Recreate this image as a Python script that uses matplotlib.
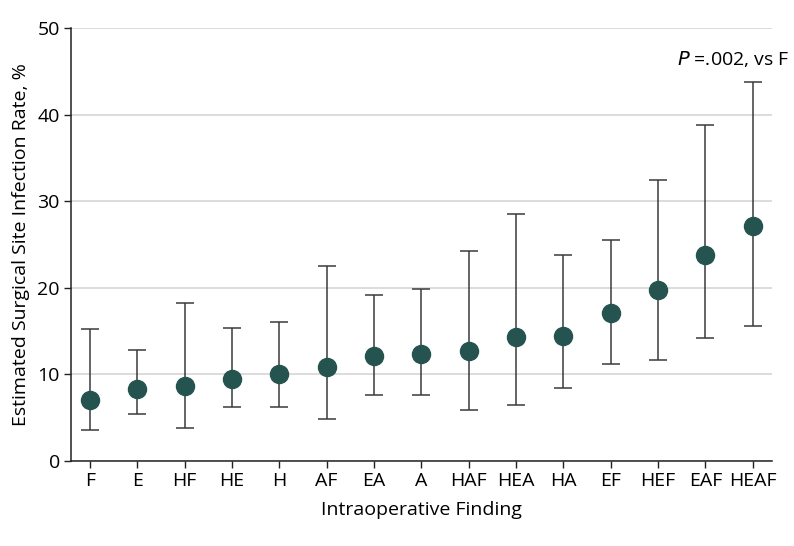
import matplotlib
matplotlib.use('Agg')
import matplotlib.pyplot as plt
import numpy as np

plt.rcParams['font.family'] = ['Open Sans', 'DejaVu Sans']

findings = ['F', 'E', 'HF', 'HE', 'H', 'AF', 'EA', 'A', 'HAF', 'HEA', 'HA', 'EF', 'HEF', 'EAF', 'HEAF']
rate = [7.1, 8.3, 8.7, 9.5, 10.0, 10.8, 12.1, 12.4, 12.7, 14.3, 14.4, 17.1, 19.7, 23.8, 27.1]
lower = [3.6, 5.4, 3.85, 6.2, 6.2, 4.9, 7.6, 7.6, 5.9, 6.5, 8.4, 11.2, 11.7, 14.2, 15.55]
upper = [15.2, 12.8, 18.2, 15.3, 16.1, 22.5, 19.2, 19.9, 24.3, 28.5, 23.8, 25.5, 32.5, 38.8, 43.8]

x = np.arange(len(findings))
rate = np.array(rate)
err = [rate - np.array(lower), np.array(upper) - rate]

fig = plt.figure(figsize=(7.94, 5.46), dpi=100)
ax = fig.add_axes([0.0894, 0.1557, 0.8826, 0.793])

ax.yaxis.grid(True, color='#d9d9d9', lw=1.3)
ax.set_axisbelow(True)

ax.errorbar(x, rate, yerr=err, fmt='none', ecolor='#3a3a3a', elinewidth=1.1,
            capsize=6.5, capthick=1.1, zorder=2)
ax.plot(x, rate, 'o', ms=13, color='#25534f', zorder=3)

ax.set_xlim(-0.4, 14.4)
ax.set_ylim(0, 50)
ax.set_xticks(x)
ax.set_xticklabels(findings)
ax.set_yticks([0, 10, 20, 30, 40, 50])
ax.tick_params(labelsize=14, length=5, width=1, color='#222222', pad=3)

for s in ['top', 'right']:
    ax.spines[s].set_visible(False)
for s in ['left', 'bottom']:
    ax.spines[s].set_linewidth(1.1)
    ax.spines[s].set_color('#222222')

ax.set_xlabel('Intraoperative Finding', fontsize=14, labelpad=8)
ax.set_ylabel('Estimated Surgical Site Infection Rate, %', fontsize=14, labelpad=5)

ax.text(14.78, 46.4, '$\\it{P}$ =.002, vs F', fontsize=14, ha='right', va='center')

fig.savefig('out.png', dpi=100)
